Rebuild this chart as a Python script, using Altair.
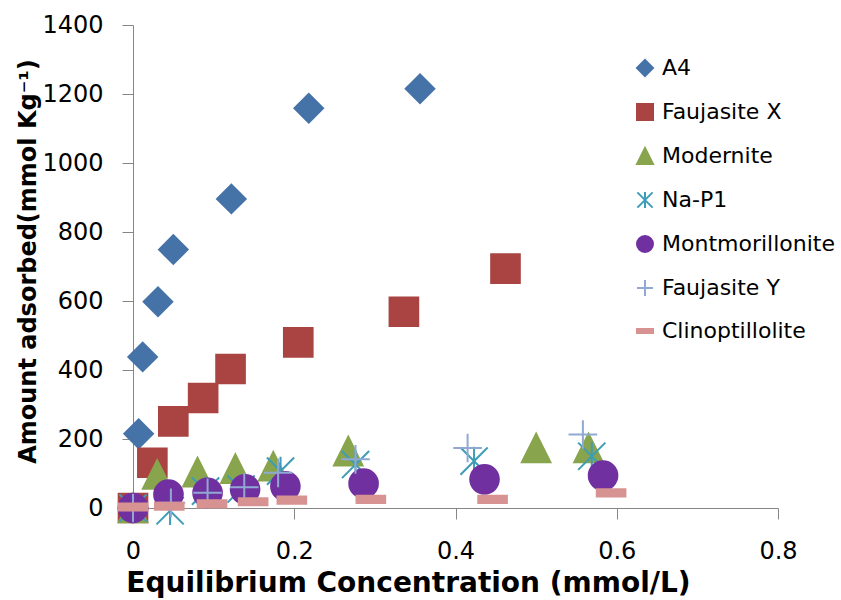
import altair as alt
import pandas as pd

series_names = ["A4", "Faujasite X", "Modernite", "Na-P1",
                "Montmorillonite", "Faujasite Y", "Clinoptillolite"]

a4_x = [0, 0.007, 0.012, 0.031, 0.050, 0.122, 0.218, 0.356]
a4_y = [0, 215, 438, 598, 749, 896, 1159, 1215]

faujx_x = [0, 0.024, 0.050, 0.087, 0.121, 0.205, 0.336, 0.462]
faujx_y = [0, 131, 251, 319, 403, 480, 569, 694]

mod_x = [0, 0.030, 0.080, 0.127, 0.174, 0.267, 0.500, 0.565]
mod_y = [0, 97, 104, 114, 121, 165, 174, 174]

nap1_x = [0, 0.046, 0.090, 0.134, 0.183, 0.276, 0.423, 0.569]
nap1_y = [0, -8, 49, 55, 107, 126, 136, 150]

mont_x = [0, 0.044, 0.0925, 0.139, 0.189, 0.286, 0.436, 0.583]
mont_y = [0, 39, 44, 54, 63, 71, 83, 94]

faujy_x = [0, 0.047, 0.0925, 0.138, 0.180, 0.276, 0.415, 0.558]
faujy_y = [0, 15, 44, 60, 102, 141, 174, 213]

clino_x = [0, 0.045, 0.098, 0.149, 0.197, 0.295, 0.446, 0.593]
clino_y = [3, 5, 12, 18, 23, 25, 25, 44]

xs = [a4_x, faujx_x, mod_x, nap1_x, mont_x, faujy_x, clino_x]
ys = [a4_y, faujx_y, mod_y, nap1_y, mont_y, faujy_y, clino_y]

rows = []
for i, (name, sx, sy) in enumerate(zip(series_names, xs, ys)):
    for x, y in zip(sx, sy):
        rows.append({"series": name, "x": x, "y": y, "order": i})
df = pd.DataFrame(rows)

shapes = [
    "diamond",
    "square",
    "M0,-1L1,1L-1,1Z",
    "M0,-1L0,1M-0.95,-0.95L0.95,0.95M-0.95,0.95L0.95,-0.95",
    "circle",
    "M-1,0L1,0M0,-1L0,1",
    "M-1,-0.25L1,-0.25L1,0.25L-1,0.25Z",
]
fills = ["#4573A8", "#A94442", "#88A44D", "transparent",
         "#7130A0", "transparent", "#D69392"]
strokes = ["#4573A8", "#A94442", "#88A44D", "#3E9DB6",
           "#7130A0", "#8FA9D3", "#D69392"]

FONT = "DejaVu Sans"

chart = alt.Chart(df).mark_point(size=820, strokeWidth=2, opacity=1).encode(
    x=alt.X("x:Q",
            scale=alt.Scale(domain=[0, 0.8], nice=False, zero=False),
            axis=alt.Axis(values=[0, 0.2, 0.4, 0.6, 0.8], format="~g",
                          title="Equilibrium Concentration (mmol/L)",
                          grid=False, tickSize=11, labelPadding=20,
                          labelFontSize=24, labelFont=FONT, labelColor="#000",
                          titleFont=FONT, titleFontSize=28, titleFontWeight="bold",
                          titleColor="#000", titleX=275, titleY=75,
                          titleAlign="center", titleBaseline="middle",
                          domainColor="#868686", tickColor="#868686",
                          labelFlush=False)),
    y=alt.Y("y:Q",
            scale=alt.Scale(domain=[0, 1400], nice=False, zero=False),
            axis=alt.Axis(values=list(range(0, 1401, 200)), format="d",
                          title="Amount adsorbed(mmol Kg⁻¹)",
                          grid=False, tickSize=11, labelPadding=19,
                          labelFontSize=24, labelFont=FONT, labelColor="#000",
                          titleFont=FONT, titleFontSize=24, titleFontWeight="bold",
                          titleColor="#000", titleX=-105, titleY=236,
                          titleAngle=-90, titleAlign="center", titleBaseline="middle",
                          domainColor="#868686", tickColor="#868686",
                          labelFlush=False)),
    shape=alt.Shape("series:N", sort=series_names,
                    scale=alt.Scale(domain=series_names, range=shapes),
                    legend=alt.Legend(title=None)),
    fill=alt.Fill("series:N", sort=series_names,
                  scale=alt.Scale(domain=series_names, range=fills),
                  legend=alt.Legend(title=None)),
    stroke=alt.Stroke("series:N", sort=series_names,
                      scale=alt.Scale(domain=series_names, range=strokes),
                      legend=alt.Legend(title=None)),
    order=alt.Order("order:Q"),
).properties(
    width=645,
    height=483,
    autosize=alt.AutoSizeParams(type="none"),
    padding={"left": 133, "top": 25, "right": 63, "bottom": 92},
).configure_view(
    stroke=None
).configure_legend(
    orient="none",
    legendX=501,
    legendY=32,
    symbolSize=256,
    symbolStrokeWidth=2,
    labelFont=FONT,
    labelFontSize=22,
    labelColor="#000",
    labelOffset=6,
    rowPadding=20,
    labelLimit=300,
)

chart.save("out.html", embed_options={"renderer": "svg", "actions": False})
